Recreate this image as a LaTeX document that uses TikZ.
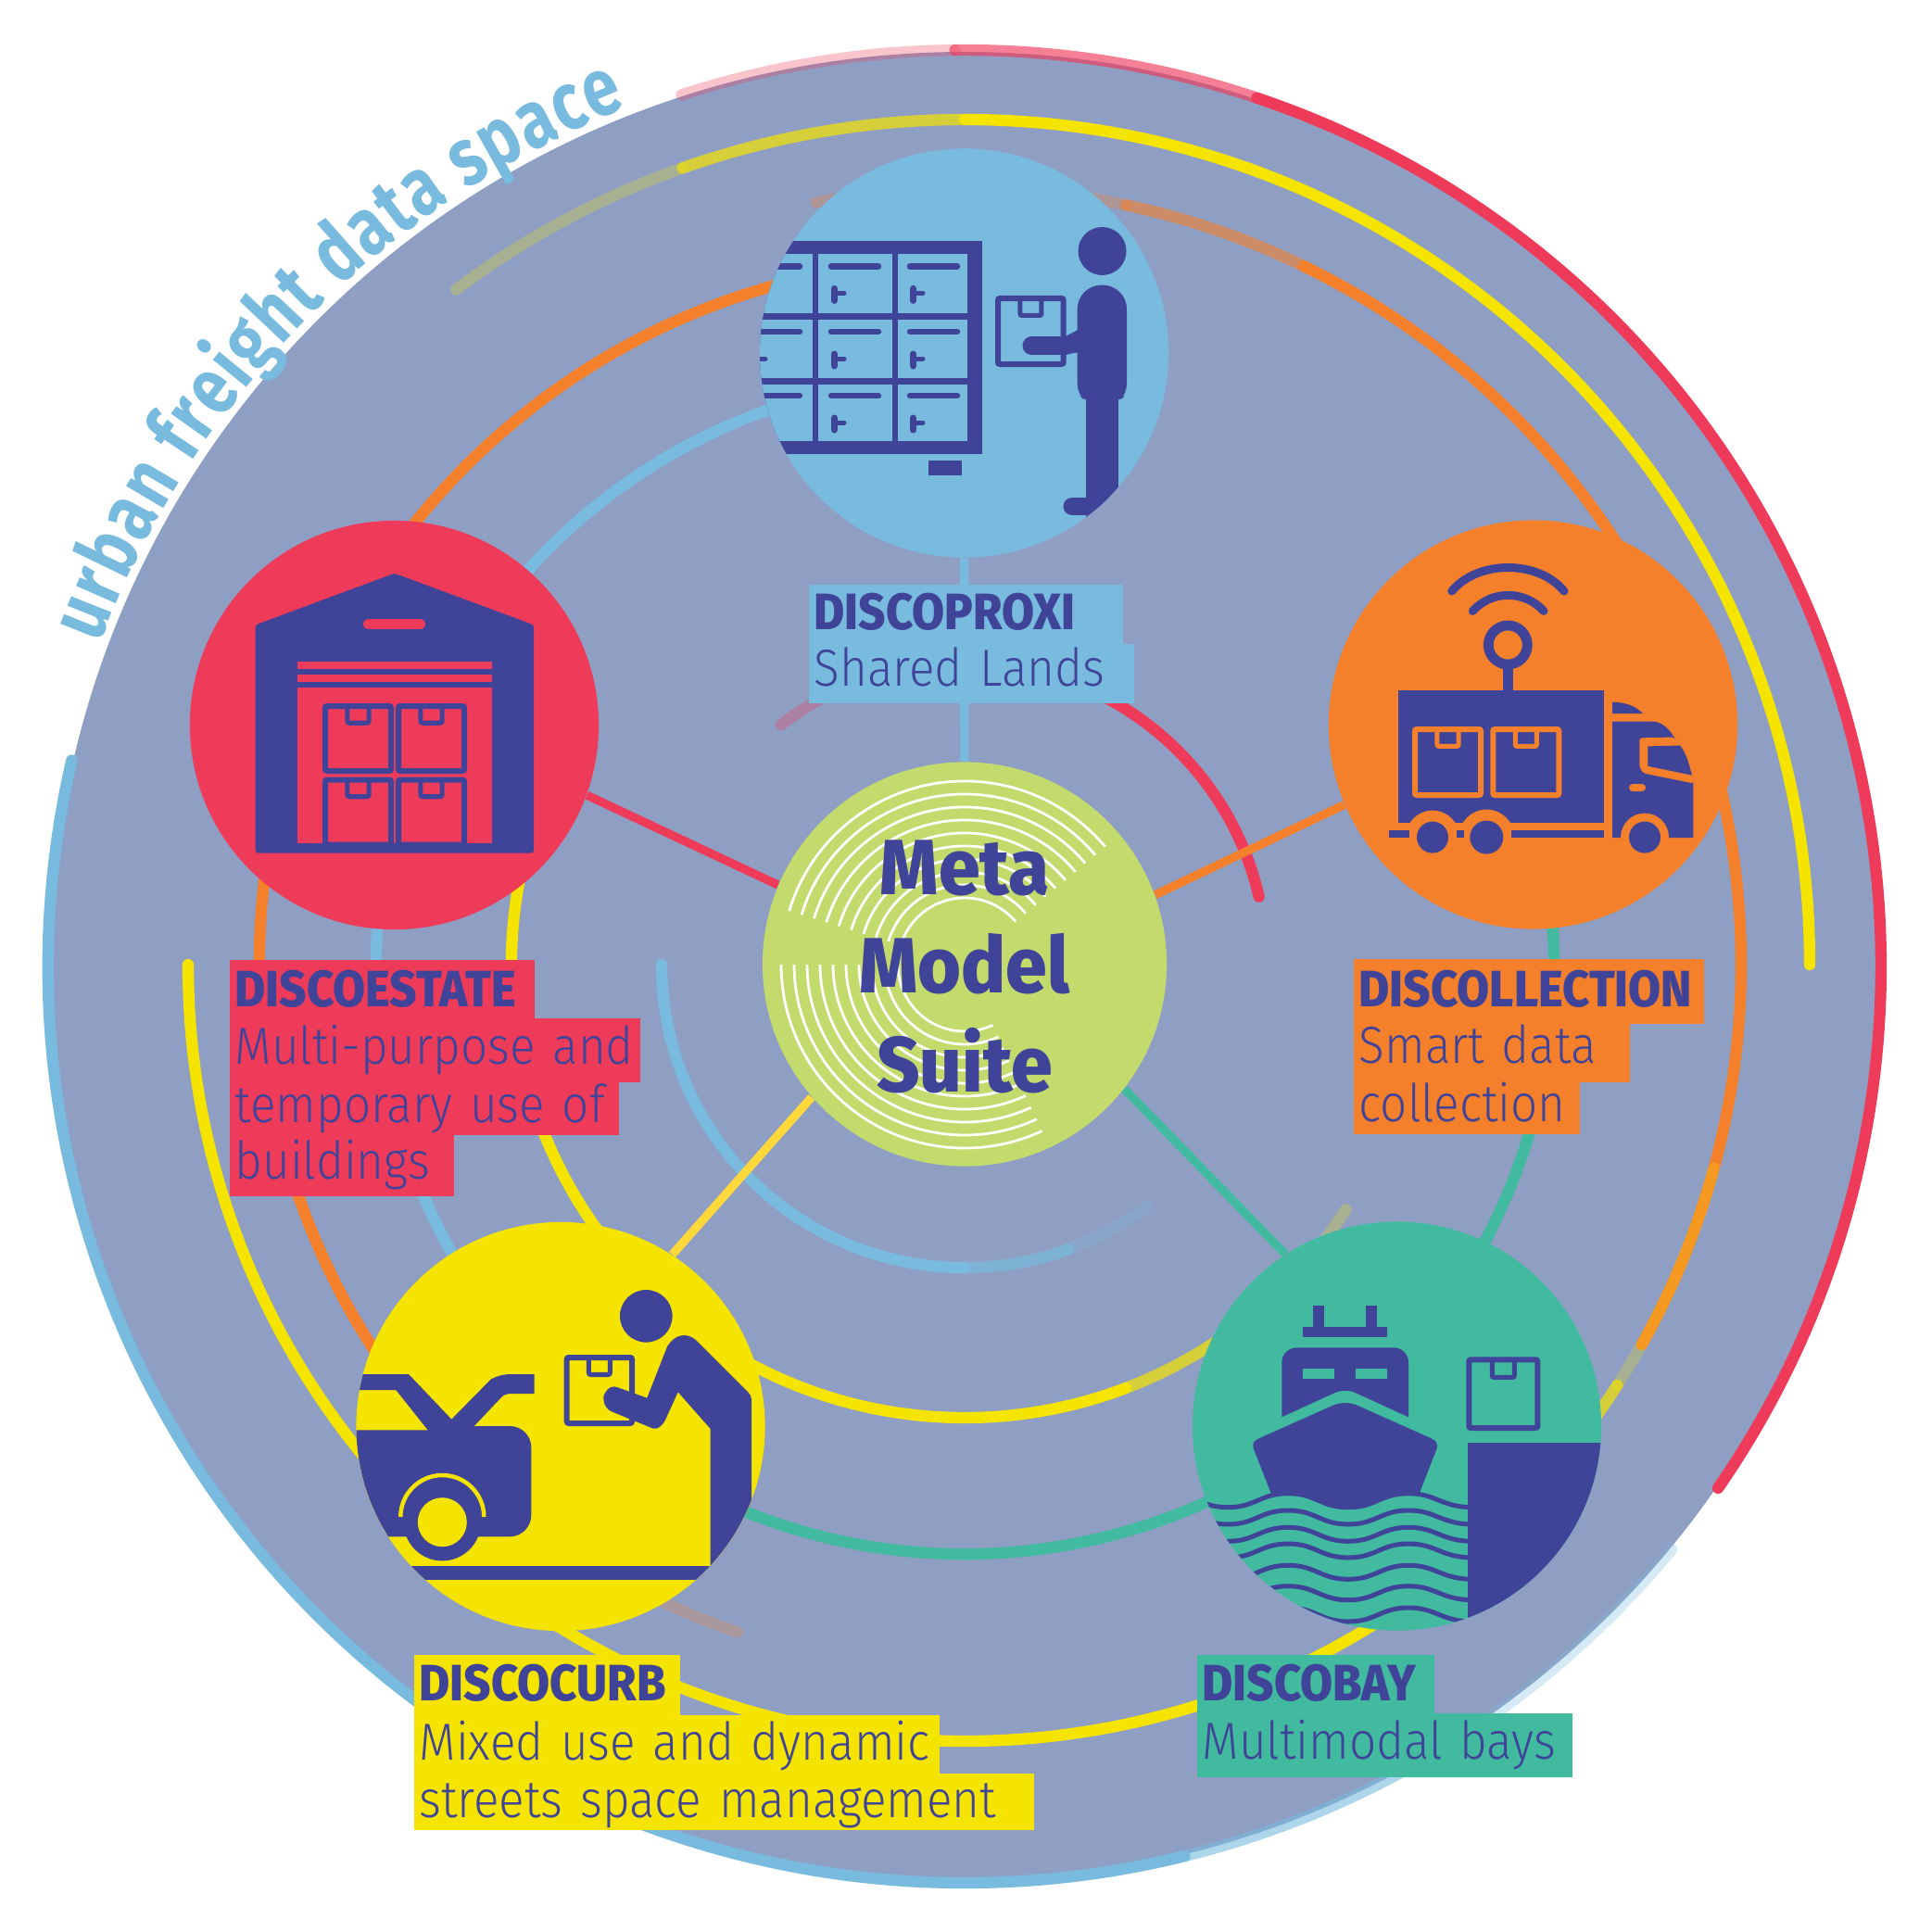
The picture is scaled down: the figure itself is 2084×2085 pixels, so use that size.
\documentclass[tikz,border=0pt]{standalone}
\usepackage{fontspec}
\usetikzlibrary{decorations.text}
\newfontfamily\tagtitle[FakeStretch=.92]{Fira Sans ExtraBold}
\newfontfamily\tagbody[FakeStretch=.91]{Fira Sans Light}
\newfontfamily\metafont[FakeStretch=.95]{Fira Sans ExtraBold}
\newfontfamily\curvefont[FakeStretch=.8]{Fira Sans}

\definecolor{discC}{HTML}{8F9FC3}
\definecolor{blueC}{HTML}{78BBDE}
\definecolor{redC}{HTML}{EF3B5A}
\definecolor{orangeC}{HTML}{F5802C}
\definecolor{yellowC}{HTML}{F5E400}
\definecolor{greenC}{HTML}{42BA9F}
\definecolor{navyC}{HTML}{3F4499}
\definecolor{limeC}{HTML}{C3DA6C}
\definecolor{sunC}{HTML}{FFD93B}

\tikzset{
  ring/.style={line width=3.5pt,line cap=round},
  spoke/.style={line width=2.6pt},
  hub/.style={circle,inner sep=0pt,minimum size=4.41cm},
  tag/.style n args={4}{anchor=north west,inner xsep=.06cm,inner ysep=0pt,fill=#1,text=navyC,
    align=left,text width=#2*.01cm-.12cm,text height=#3*.01cm,text depth=#4*.01cm},
  headline/.style={font=\tagtitle\fontsize{15.7}{16}\selectfont},
  bodyline/.style={font=\tagbody\fontsize{16}{16}\selectfont},
  metaword/.style={anchor=base,text=navyC,font=\metafont\fontsize{24}{24}\selectfont}
}

\newcommand{\ringarc}[4]{\draw[ring,#1] (#2:#4) arc[start angle=#2,end angle=#3,radius=#4];}
\newcommand{\parcel}[5]{
  \draw[#5,line width=.06cm,rounded corners=.02cm] (#1+3,#2+3) rectangle (#1+#3-3,#2+#4-3);
  \draw[#5,line width=.05cm,rounded corners=.02cm] (#1+#3*.35,#2+3) -- ++(0,#4*.24) -- ++(#3*.3,0) -- ++(0,-#4*.24);
}

\begin{document}
\begin{tikzpicture}[x=.01cm,y=-.01cm]

\useasboundingbox (0,0) rectangle (2084,2085);

\fill[discC] (1041,1043) circle (987);

\begin{scope}[shift={(1041,1043)},y=.01cm]
\path[decorate,decoration={text along path,text align={fit to path},
  text={|\curvefont\bfseries\fontsize{25}{25}\selectfont\color{blueC}|urban freight data space}}]
  (159.5:996) arc[start angle=159.5,end angle=111.5,radius=996];

\ringarc{redC,opacity=.3}{108}{90.6}{989}
\ringarc{redC,opacity=.65}{90.6}{71.4}{989}
\ringarc{redC}{71.4}{-34.7}{989}
\ringarc{blueC}{167}{283.9}{989}
\ringarc{blueC,opacity=.6}{283.9}{304}{989}
\ringarc{blueC,opacity=.3}{304}{320.5}{989}
\end{scope}

\begin{scope}[shift={(1041,1041)},y=.01cm]
\ringarc{yellowC,opacity=.25}{127}{109.5}{912}
\ringarc{yellowC,opacity=.7}{109.5}{90}{912}
\ringarc{yellowC}{90}{0}{912}

\ringarc{orangeC,opacity=.3}{101}{78}{838}
\ringarc{orangeC,opacity=.6}{78}{64.1}{838}
\ringarc{orangeC}{64.1}{-29.3}{838}
\ringarc{yellowC}{180}{315}{838}
\ringarc{yellowC,opacity=.7}{315}{327.2}{838}
\ringarc{yellowC,opacity=.25}{327.2}{344.8}{838}

\ringarc{orangeC}{100}{235}{761}
\ringarc{orangeC,opacity=.25}{235}{251.2}{761}

\ringarc{blueC}{100}{215}{635}
\ringarc{greenC}{-115}{5}{636}

\ringarc{yellowC}{165}{290.8}{489}
\ringarc{yellowC,opacity=.7}{290.8}{318}{489}
\ringarc{yellowC,opacity=.25}{318}{327.3}{489}

\ringarc{redC,opacity=.3}{127.4}{90}{326}
\ringarc{redC}{90}{13}{326}

\ringarc{blueC}{180}{270}{327}
\ringarc{blueC,opacity=.7}{270}{290}{327}
\ringarc{blueC,opacity=.25}{290}{307}{327}
\end{scope}

\node[hub,fill=limeC,minimum size=4.36cm] (meta) at (1041,1040.5) {};
\node[hub,fill=blueC] (proxi) at (1040.5,381) {};
\node[hub,fill=redC] (estate) at (425.5,782.5) {};
\node[hub,fill=orangeC] (collect) at (1654.5,782) {};
\node[hub,fill=yellowC] (curb) at (605,1539.5) {};
\node[hub,fill=greenC] (bay) at (1507.5,1539) {};

\draw[spoke,blueC] (proxi) -- (meta);
\draw[spoke,redC] (estate.-20.5) -- (meta.157.3);
\draw[spoke,orangeC] (collect.203.8) -- (meta.20.8);
\draw[spoke,sunC] (curb.57.8) -- (meta.221.8);
\draw[spoke,greenC] (bay.123) -- (meta.-38.2);

% white grooves of the centre
\begin{scope}[shift={(1041,1041)},y=.01cm]
\foreach \r in {72,86,...,198} {
  \draw[white,line width=.8pt] (163:\r) arc[start angle=163,end angle=40,radius=\r];
  \draw[white,line width=.8pt] (180:\r) arc[start angle=180,end angle=295,radius=\r];
}
\end{scope}

\node[metaword] (metatop) at (1041,965) {Meta};
\node[metaword] (metamid) at (1041,1071) {Model};
\node[metaword] (metalow) at (1041,1178) {Suite};

% lockers
\begin{scope}
\clip (1040.5,381) circle (220.5);
\fill[navyC] (780,260) rectangle (1060.3,490);
\foreach \cx/\cw in {780/96.7,883/79.7,969/75} {
  \foreach \cy/\ch in {274/63.5,344.6/63.2,415/61} {
    \fill[blueC] (\cx,\cy) rectangle ++(\cw,\ch);
  }
}
\foreach \bx in {812,897,982} {
  \foreach \ry in {287.4,358,427} {
    \draw[navyC,line width=.065cm,line cap=round] (\bx,\ry) -- ++(51,0);
    \draw[navyC,line width=.07cm,line cap=round] (\bx+3.5,\ry+24) -- ++(0,13);
    \draw[navyC,line width=.05cm,line cap=round] (\bx+7,\ry+29) -- ++(7,0);
  }
}
\fill[navyC] (1002,497) rectangle (1038,513);
\fill[navyC] (1189.5,271) circle (26);
\parcel{1074}{319}{76.7}{77}{navyC}
\draw[navyC,line width=.19cm,line cap=round] (1113,373) -- (1150,373);
\fill[navyC] (1148,364) -- (1165,355) -- (1165,380) -- (1148,383) -- cycle;
\fill[navyC,rounded corners=.26cm] (1162.7,380) -- (1162.7,307.6) -- (1216,307.6) -- (1216,380) [rounded corners=.1cm] -- (1216,424.6) -- (1207,434) -- (1172,434) -- (1162.7,424.6) -- cycle;
\fill[navyC] (1172,420) rectangle (1207,560);
\draw[navyC,line width=.19cm,line cap=round] (1157,546.5) -- (1215,546.5);
\end{scope}

% warehouse
\fill[navyC,rounded corners=.03cm] (425.7,618.7) -- (576,674.4) -- (576,920.6) -- (275.7,920.6) -- (275.7,674.4) -- cycle;
\draw[redC,line width=.105cm,line cap=round] (397,673.7) -- (454,673.7);
\fill[redC] (320.7,713.7) rectangle (531,721.6);
\fill[redC] (320.7,728) rectangle (531,736);
\fill[redC] (320.7,742) rectangle (531,909.7);
\parcel{348}{759}{77}{76}{navyC}
\parcel{427}{759}{77}{76}{navyC}
\parcel{348}{838.5}{77}{76}{navyC}
\parcel{427}{838.5}{77}{76}{navyC}

% truck
\draw[navyC,line width=.09cm,line cap=round] (1566.7,638) .. controls (1595,604) and (1660,604) .. (1688,638);
\draw[navyC,line width=.09cm,line cap=round] (1589.3,659.4) .. controls (1610,636.7) and (1645,636.7) .. (1666,659.4);
\draw[navyC,line width=.108cm] (1627.3,696) circle (21);
\fill[navyC] (1622,715) rectangle (1633,750);
\fill[navyC] (1508.7,745) rectangle (1731,888);
\parcel{1524}{784}{77}{77}{orangeC}
\parcel{1608.3}{784}{77}{77}{orangeC}
\fill[orangeC] (1546,903.6) circle (29);
\fill[orangeC] (1604.3,903.6) circle (30);
\fill[navyC] (1546,903.6) circle (17);
\fill[navyC] (1604.3,903.6) circle (18);
\fill[navyC] (1498.7,896.4) rectangle (1520.7,904);
\fill[navyC] (1571.7,896.4) rectangle (1580,904);
\fill[navyC] (1630.7,896.4) rectangle (1731,904);
\fill[navyC] (1740,757.6) .. controls (1755,758) and (1765,762) .. (1773,770) -- (1740,770) -- cycle;
\fill[navyC] (1740,778.6) -- (1785,778.6) .. controls (1795,780) and (1802,788) .. (1806.7,795.5) -- (1827.3,835) -- (1827.3,904) -- (1740,904) -- cycle;
\fill[orangeC,rounded corners=.03cm] (1769.3,796.4) -- (1806.7,795.5) -- (1828,835.7) -- (1828,845.5) -- (1773.3,834.4) -- (1769.3,827.7) -- cycle;
\fill[navyC] (1778.3,805.4) -- (1813.3,804.5) .. controls (1820,815) .. (1826,836.6) -- (1778.3,826.8) -- cycle;
\draw[orangeC,line width=.08cm,line cap=round] (1762,850) -- (1772,850);
\fill[orangeC] (1775,903.6) circle (26);
\fill[navyC] (1775,903.6) circle (17);

% car and courier
\begin{scope}
\clip (605,1539.5) circle (220.5);
\fill[navyC] (370,1483) -- (441,1483) -- (487.3,1531.7) -- (530,1488.3) .. controls (537,1485) and (543,1483) .. (550,1483) -- (576.7,1483) -- (576.7,1504) -- (551.7,1504) .. controls (548,1504) and (544,1505) .. (541.7,1507.3) -- (511.7,1539) -- (550,1539) .. controls (563,1539) and (573.3,1549) .. (573.3,1562.3) -- (573.3,1635) .. controls (573.3,1648) and (563,1658.3) .. (550,1658.3) -- (370,1658.3) -- (370,1543.3) -- (461.7,1543.3) -- (427.3,1500) -- (370,1500) -- cycle;
\fill[navyC] (477.3,1642.7) circle (41.7);
\fill[yellowC] (477.3,1642.7) circle (26.5);
\draw[yellowC,line width=.045cm] (432.3,1637) arc[start angle=180,end angle=360,radius=45];
\fill[navyC] (370,1690) rectangle (840,1705);
\parcel{608.7}{1462}{76.3}{77}{navyC}
\fill[navyC] (697.3,1420.3) circle (28.3);
\fill[navyC] (720,1453.3) .. controls (725,1445) and (732,1441) .. (738.3,1441) .. controls (745,1441) and (750,1445) .. (753.3,1448.3) -- (806.7,1501.7) .. controls (809,1504) and (811,1507) .. (811,1510) -- (811,1690) -- (766.7,1690) -- (766.7,1542) -- (731.7,1502.3) -- (718.3,1531.7) .. controls (715,1539) and (709,1543) .. (705,1541.7) -- (660,1523.3) .. controls (650,1519) and (650,1505) .. (653.3,1503) .. controls (656,1497) and (662,1495) .. (666.7,1497.3) -- (698.3,1508.7) -- cycle;
\end{scope}

% ship and quay
\begin{scope}
\clip (1507.5,1539) circle (220.5);
\foreach \ty in {1626.7,1645,1663.3,1681,1704.3,1726.7,1750} {
  \draw[navyC,line width=.05cm] (1195,\ty) .. controls (1225,\ty) and (1230,\ty-15) .. (1260,\ty-15) .. controls (1290,\ty-15) and (1295,\ty) .. (1325,\ty) .. controls (1355,\ty) and (1360,\ty-15) .. (1390,\ty-15) .. controls (1420,\ty-15) and (1425,\ty) .. (1455,\ty) .. controls (1485,\ty) and (1490,\ty-15) .. (1520,\ty-15) .. controls (1550,\ty-15) and (1555,\ty) .. (1590,\ty);
}
\fill[navyC] (1584,1557.3) rectangle (1740,1770);
\end{scope}
\fill[navyC] (1406,1431.7) rectangle (1497.3,1443);
\fill[navyC] (1417.3,1409) rectangle (1429,1431.7);
\fill[navyC] (1474.3,1409) rectangle (1486,1431.7);
\fill[navyC,rounded corners=.16cm] (1383.3,1500) -- (1383.3,1454.3) -- (1520,1454.3) -- (1520,1500) [sharp corners] -- (1520,1529.3) -- (1463.3,1503.3) .. controls (1456,1500) and (1447,1500) .. (1440,1503.3) -- (1383.3,1529.3) -- cycle;
\fill[greenC] (1406,1477) rectangle (1440,1488.3);
\fill[greenC] (1463,1477) rectangle (1497,1488.3);
\fill[navyC] (1451.7,1514) .. controls (1448,1514) and (1443,1515) .. (1440,1516) -- (1360,1551.7) .. controls (1354,1554) and (1351,1557) .. (1352.7,1563) -- (1371.7,1611.7) .. controls (1410,1605) and (1425,1628.3) .. (1453.3,1628.3) .. controls (1482,1628.3) and (1495,1605) .. (1531.7,1611.7) -- (1550.7,1563) .. controls (1552,1557) and (1549,1554) .. (1543.3,1551.7) -- (1463.3,1516) .. controls (1460,1515) and (1455,1514) .. (1451.7,1514) -- cycle;
\parcel{1582.3}{1464.3}{80}{79.7}{navyC}

% labels
\node[tag={blueC}{339}{49}{15},headline] (proxihead) at (872,630) {\mbox{DISCOPROXI}};
\node[tag={blueC}{351}{46}{18},bodyline] (proxibody) at (872,694) {\mbox{Shared Lands}};

\node[tag={redC}{329}{51}{12},headline] (estatehead) at (247,1035) {\mbox{DISCOESTATE}};
\node[tag={redC}{443}{50}{19},bodyline] (estatebodya) at (247,1098) {\mbox{Multi-purpose and}};
\node[tag={redC}{420}{44}{13},bodyline] (estatebodyb) at (247,1167) {\mbox{temporary use of}};
\node[tag={redC}{242}{48}{18},bodyline] (estatebodyc) at (247,1224) {\mbox{buildings}};

\node[tag={orangeC}{378}{52}{18},headline] (collecthead) at (1460,1034) {\mbox{DISCOLLECTION}};
\node[tag={orangeC}{298}{43.5}{20},bodyline] (collectbodya) at (1460,1103.6) {\mbox{Smart data}};
\node[tag={orangeC}{244}{43}{13},bodyline] (collectbodyb) at (1460,1167) {\mbox{collection}};

\node[tag={yellowC}{287}{50}{15},headline] (curbhead) at (446,1785) {\mbox{DISCOCURB}};
\node[tag={yellowC}{567}{49}{14},bodyline] (curbbodya) at (446,1850) {\mbox{Mixed use and dynamic}};
\node[tag={yellowC}{669}{48}{13},bodyline] (curbbodyb) at (446,1913) {\mbox{streets space management}};

\node[tag={greenC}{256}{50}{15},headline] (bayhead) at (1291,1785) {\mbox{DISCOBAY}};
\node[tag={greenC}{405}{49}{20},bodyline] (baybody) at (1291,1848.3) {\mbox{Multimodal bays}};

\end{tikzpicture}
\end{document}
